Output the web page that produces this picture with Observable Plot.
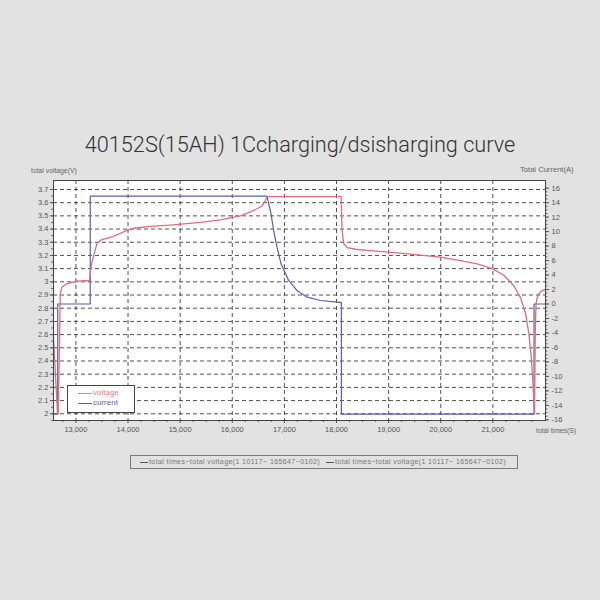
<!DOCTYPE html>
<html><head><meta charset="utf-8">
<script src="https://cdn.jsdelivr.net/npm/d3@7"></script>
<script src="https://cdn.jsdelivr.net/npm/@observablehq/plot@0.6"></script>
<style>
html,body{margin:0;padding:0;background:#e2e2e2;}
#wrap{position:relative;width:600px;height:600px;overflow:hidden;font-family:"Liberation Sans",Arial,sans-serif;}
.abs{position:absolute;white-space:nowrap;}
#wrap svg{position:absolute;left:0;top:0;}
</style></head><body><div id="wrap">
<div class="abs" style="left:0;width:600px;top:133px;text-align:center;font-family:Roboto,'Liberation Sans';font-weight:300;font-size:21.7px;line-height:24px;color:#333;">40152S(15AH) 1Ccharging/dsisharging curve</div>
<div class="abs" style="left:31px;top:166px;font-size:6.8px;line-height:10px;color:#666;">total voltage(V)</div>
<div class="abs" style="left:520px;top:165px;font-size:7.6px;line-height:10px;color:#666;">Total Current(A)</div>
<div class="abs" style="left:536px;top:426px;font-size:6.8px;line-height:10px;color:#666;">total times(S)</div>
<div class="abs" id="leg" style="left:67px;top:385px;width:66px;height:26px;background:#fff;border:1px solid #444;z-index:2;font-size:8px;line-height:10px;">
  <div class="abs" style="left:10px;top:7px;width:14px;border-top:1.2px solid #e07f86;"></div>
  <div class="abs" style="left:25px;top:2px;color:#e07f86;">voltage</div>
  <div class="abs" style="left:10px;top:17px;width:14px;border-top:1.2px solid #5c5ea8;"></div>
  <div class="abs" style="left:25px;top:12px;color:#5c5ea8;">current</div>
</div>
<div class="abs" style="left:130px;top:455px;width:386px;height:12px;border:1.5px solid #7a7a7a;font-size:7px;letter-spacing:0.4px;line-height:12px;color:#777;">
  <span class="abs" style="left:9px;top:6px;width:8px;border-top:1px solid #555;"></span>
  <span class="abs" style="left:18px;top:0;">total times~total voltage(1 10117~ 165647~0102)</span>
  <span class="abs" style="left:195px;top:6px;width:8px;border-top:1px solid #555;"></span>
  <span class="abs" style="left:204px;top:0;">total times~total voltage(1 10117~ 165647~0102)</span>
</div>
</div>
<script>
// ---- data ----
const timeV = [12570,12647,12660,12689,12699,12731,12827,13019,13261,13280,13315,13403,13499,13691,13979,14106,14427,14811,15387,15771,16155,16410,16571,16635,16667,18088,18107,18138,18203,18395,18651,19227,19611,19995,20379,20700,20988,21210,21402,21531,21627,21690,21736,21767,21786,21800,21814,21828,21851,21882,21934,22010];
const voltage = [2.58,2.00,2.00,2.63,2.91,2.96,2.985,3.005,3.01,3.086,3.16,3.29,3.32,3.34,3.39,3.406,3.42,3.43,3.45,3.47,3.50,3.54,3.575,3.616,3.646,3.646,3.39,3.29,3.26,3.245,3.237,3.217,3.203,3.187,3.16,3.136,3.10,3.05,2.97,2.88,2.76,2.61,2.43,2.25,2.10,2.00,2.63,2.835,2.88,2.91,2.93,2.945];
const timeI = [12570,12651,12651,13275,13275,16667,16744,16794,16859,16936,17082,17243,17436,17691,18011,18094,18094,21790,21790,22010];
const current = [-15.2,-15.2,0,0,14.9,14.9,12.46,10.15,7.85,5.55,3.25,1.86,0.94,0.48,0.25,0.2,-15.2,-15.2,0,0];

const xTicks = [13000,14000,15000,16000,17000,18000,19000,20000,21000];
const xTickLabels = ["13,000","14,000","15,000","16,000","17,000","18,000","19,000","20,000","21,000"];
const vTicks = [2,2.1,2.2,2.3,2.4,2.5,2.6,2.7,2.8,2.9,3,3.1,3.2,3.3,3.4,3.5,3.6,3.7];
const vTickLabels = ["2","2.1","2.2","2.3","2.4","2.5","2.6","2.7","2.8","2.9","3","3.1","3.2","3.3","3.4","3.5","3.6","3.7"];
const iTicks = [16,14,12,10,8,6,4,2,0,-2,-4,-6,-8,-10,-12,-14,-16];
const iTickLabels = ["16","14","12","10","8","6","4","2","0","-2","-4","-6","-8","-10","-12","-14","-16"];

// ---- scales ----
const xDomain = [12570, 22010];
const vDomain = [1.949, 3.768];
const i2v = d3.scaleLinear().domain([-16, 16]).range([1.954, 3.710]);

const vData = timeV.map((t, k) => ({t, v: voltage[k]}));
const iData = timeI.map((t, k) => ({t, v: i2v(current[k])}));

const xLab = new Map(xTicks.map((d, k) => [d, xTickLabels[k]]));
const vLab = new Map(vTicks.map((d, k) => [d, vTickLabels[k]]));
const iPos = iTicks.map(i2v);
const iLab = new Map(iPos.map((d, k) => [d, iTickLabels[k]]));
const xMinor = d3.range(12750, 22001, 250).filter(d => d % 1000 !== 0);
const vMinor = d3.range(0, 36).map(k => 1.95 + k * 0.05).filter(d => d >= vDomain[0] && d <= vDomain[1]);
const iMinor = d3.range(-32, 33).map(k => i2v(k / 2));

const red = "#d9707a", blue = "#5c5ea8", gridC = "#333";

const chart = Plot.plot({
  width: 600, height: 600,
  marginLeft: 53, marginRight: 55, marginTop: 180, marginBottom: 180,
  x: {domain: xDomain, label: null},
  y: {domain: vDomain, label: null},
  style: {background: "transparent", fontFamily: "'Liberation Sans', Arial, sans-serif", color: "#555"},
  marks: [
    Plot.frame({fill: "white", stroke: null}),
    Plot.gridY(vTicks, {stroke: gridC, strokeOpacity: 0.85, strokeDasharray: "4,3"}),
    Plot.gridX(xTicks, {stroke: gridC, strokeOpacity: 0.85, strokeDasharray: "4,3"}),
    Plot.axisY(vTicks, {anchor: "left", label: null, tickSize: 3, tickPadding: 2, fontSize: 7.5, tickFormat: d => vLab.get(d), color: "#555"}),
    Plot.axisY(vMinor, {anchor: "left", label: null, tickSize: 2, tickFormat: () => "", color: "#666"}),
    Plot.axisY(iPos, {anchor: "right", label: null, tickSize: 3, tickPadding: 3, fontSize: 7.5, tickFormat: d => iLab.get(d), color: "#555"}),
    Plot.axisY(iMinor, {anchor: "right", label: null, tickSize: 1.5, tickFormat: () => "", color: "#666"}),
    Plot.axisX(xTicks, {anchor: "bottom", label: null, tickSize: 3, tickPadding: 3, fontSize: 7.5, tickFormat: d => xLab.get(d), color: "#555"}),
    Plot.axisX(xMinor, {anchor: "bottom", label: null, tickSize: 2, tickFormat: () => "", color: "#666"}),
    Plot.line(iData, {x: "t", y: "v", stroke: blue, strokeWidth: 1.2}),
    Plot.line(vData, {x: "t", y: "v", stroke: red, strokeWidth: 1.3}),
    Plot.frame({stroke: "#444", strokeWidth: 1})
  ]
});
document.getElementById("wrap").insertBefore(chart, document.getElementById("wrap").firstChild);
</script>
</body></html>
